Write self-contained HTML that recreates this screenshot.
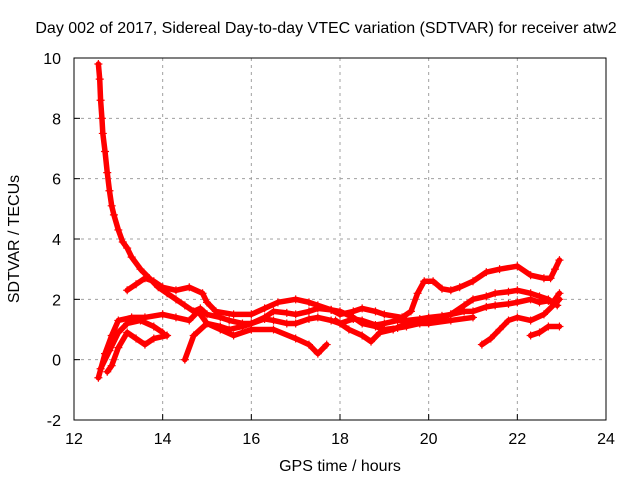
<!DOCTYPE html>
<html><head><meta charset="utf-8"><style>
body{margin:0;background:#fff}
svg{display:block;font-family:"Liberation Sans",sans-serif}
</style></head><body>
<svg id="chart" width="640" height="480" viewBox="0 0 640 480">
<rect width="640" height="480" fill="#fff"/>
<text x="326" y="33" font-size="16" text-anchor="middle">Day 002 of 2017, Sidereal Day-to-day VTEC variation (SDTVAR) for receiver atw2</text>
<text x="340" y="471" font-size="16" text-anchor="middle">GPS time / hours</text>
<text transform="translate(19,239) rotate(-90)" font-size="16" text-anchor="middle">SDTVAR / TECUs</text>
<g id="grid"></g><g id="ticks"></g><g id="marks"></g>
<rect x="74" y="58" width="532" height="362" fill="none" stroke="#000" stroke-width="1"/>
</svg>
<script>
const xTicks=[12,14,16,18,20,22,24];
const yTicks=[-2,0,2,4,6,8,10];
const s1T=[12.55,12.58,12.6,12.63,12.65,12.7,12.75,12.8,12.85,12.9,13.0,13.1,13.2,13.3,13.5,13.7,13.9,14.1,14.3,14.5,14.7,14.85,15.0,15.3,15.5,15.8,16.0,16.3,16.5,16.8,17.0,17.3,17.5,17.8,18.0,18.3,18.5,18.8,19.0,19.3,19.5,19.8,20.0,20.3,20.5,20.8,21.0,21.3,21.5,21.8,22.0,22.3,22.5,22.7,22.9];
const s1V=[9.8,9.3,8.6,8.0,7.5,6.9,6.2,5.6,5.1,4.8,4.3,3.9,3.7,3.4,3.0,2.7,2.4,2.2,2.0,1.8,1.6,1.7,1.5,1.4,1.3,1.2,1.2,1.35,1.3,1.2,1.2,1.35,1.4,1.3,1.2,1.35,1.3,1.15,1.2,1.3,1.3,1.35,1.4,1.45,1.5,1.6,1.6,1.75,1.8,1.85,1.9,2.0,1.9,1.95,1.8];
const s2T=[13.2,13.4,13.6,13.8,14.0,14.3,14.6,14.9,15.0,15.2,15.6,16.0,16.3,16.6,17.0,17.3,17.5,17.8,18.0,18.3,18.5,18.8,19.0,19.4,19.6,19.75,19.9,20.1,20.3,20.5,20.7,21.0,21.3,21.6,22.0,22.3,22.6,22.75,22.85,22.95];
const s2V=[2.3,2.5,2.7,2.6,2.4,2.3,2.4,2.2,1.9,1.6,1.5,1.5,1.7,1.9,2.0,1.9,1.8,1.65,1.5,1.6,1.7,1.6,1.5,1.4,1.6,2.2,2.6,2.6,2.35,2.3,2.4,2.6,2.9,3.0,3.1,2.8,2.7,2.7,3.0,3.3];
const s3T=[12.55,12.7,12.85,13.0,13.3,13.6,14.0,14.3,14.6,14.8,15.0,15.3,15.5,15.8,16.0,16.3,16.5,16.8,17.0,17.3,17.5,17.8,18.0,18.3,18.5,18.8,19.0,19.3,19.5,19.8,20.0,20.3,20.5,20.8,21.0,21.3,21.5,21.8,22.0,22.3,22.5,22.7,22.8,22.95];
const s3V=[-0.6,0.2,0.8,1.3,1.4,1.4,1.5,1.4,1.3,1.6,1.2,1.1,1.0,1.1,1.2,1.4,1.6,1.55,1.5,1.6,1.7,1.65,1.6,1.4,1.2,1.1,1.0,1.05,1.1,1.2,1.3,1.4,1.5,1.8,2.0,2.1,2.2,2.25,2.3,2.2,2.1,2.0,1.9,2.2];
const s4T=[12.75,12.85,13.0,13.2,13.4,13.6,13.8,14.1];
const s4V=[-0.4,-0.2,0.4,0.9,0.7,0.5,0.7,0.8];
const s5T=[14.5,14.7,15.0,15.3,15.6,16.0,16.5,17.0,17.3,17.5,17.7];
const s5V=[0.0,0.8,1.2,1.0,0.8,1.0,1.0,0.7,0.5,0.2,0.5];
const s6T=[17.9,18.2,18.5,18.7,18.9,19.2,19.5,20.0,20.5,21.0];
const s6V=[1.3,1.0,0.8,0.6,0.9,1.0,1.2,1.2,1.3,1.4];
const s7T=[21.2,21.4,21.6,21.8,22.0,22.3,22.6,22.95];
const s7V=[0.5,0.7,1.0,1.3,1.4,1.3,1.5,2.0];
const s8T=[22.3,22.5,22.7,22.95];
const s8V=[0.8,0.9,1.1,1.1];
const s9T=[12.6,12.8,13.0,13.2,13.5,13.8,14.0];
const s9V=[-0.3,0.3,0.9,1.2,1.3,1.1,0.9];
const NS="http://www.w3.org/2000/svg";
const X=t=>74+(t-12)/12*532;
const Y=v=>420-(v+2)/12*362;
const grid=document.getElementById('grid'),ticks=document.getElementById('ticks'),marks=document.getElementById('marks');
function mk(tag,attrs,parent){const e=document.createElementNS(NS,tag);for(const k in attrs)e.setAttribute(k,attrs[k]);parent.appendChild(e);return e;}
xTicks.forEach(t=>{
 if(t>12&&t<24){const g=mk('line',{x1:X(t),x2:X(t),y1:58,y2:420,stroke:'#a0a0a0','stroke-dasharray':'3,4'},grid);
 
 }
 const l=mk('text',{x:X(t),y:444,'font-size':16,'text-anchor':'middle'},ticks);l.textContent=t;
 
 
 mk('line',{x1:X(t),x2:X(t),y1:420,y2:414,stroke:'#000'},ticks);
});
yTicks.forEach(v=>{
 if(v>-2&&v<10){const g=mk('line',{x1:74,x2:606,y1:Y(v),y2:Y(v),stroke:'#a0a0a0','stroke-dasharray':'3,4'},grid);
 
 }
 const l=mk('text',{x:61,y:Y(v)+6,'font-size':16,'text-anchor':'end'},ticks);l.textContent=v;
 
 
 mk('line',{x1:74,x2:80,y1:Y(v),y2:Y(v),stroke:'#000'},ticks);
});
const series=[[s1T,s1V],[s2T,s2V],[s3T,s3V],[s4T,s4V],[s5T,s5V],[s6T,s6V],[s7T,s7V],[s8T,s8V],[s9T,s9V]];
series.forEach((s,i)=>{
 const g=mk('g',{},marks);
 
 
 const pts=s[0].map((t,j)=>X(t)+','+Y(s[1][j])).join(' ');
 mk('polyline',{points:pts,fill:'none',stroke:'#ff0000','stroke-width':5.5,'stroke-linejoin':'round','stroke-linecap':'round'},g);
 s[0].forEach((t,j)=>{
  const p=mk('path',{d:`M${X(t)-4},${Y(s[1][j])}h8M${X(t)},${Y(s[1][j])-4}v8`,stroke:'#ff0000','stroke-width':1.2},g);
  
  
 });
});
</script>
</body></html>
